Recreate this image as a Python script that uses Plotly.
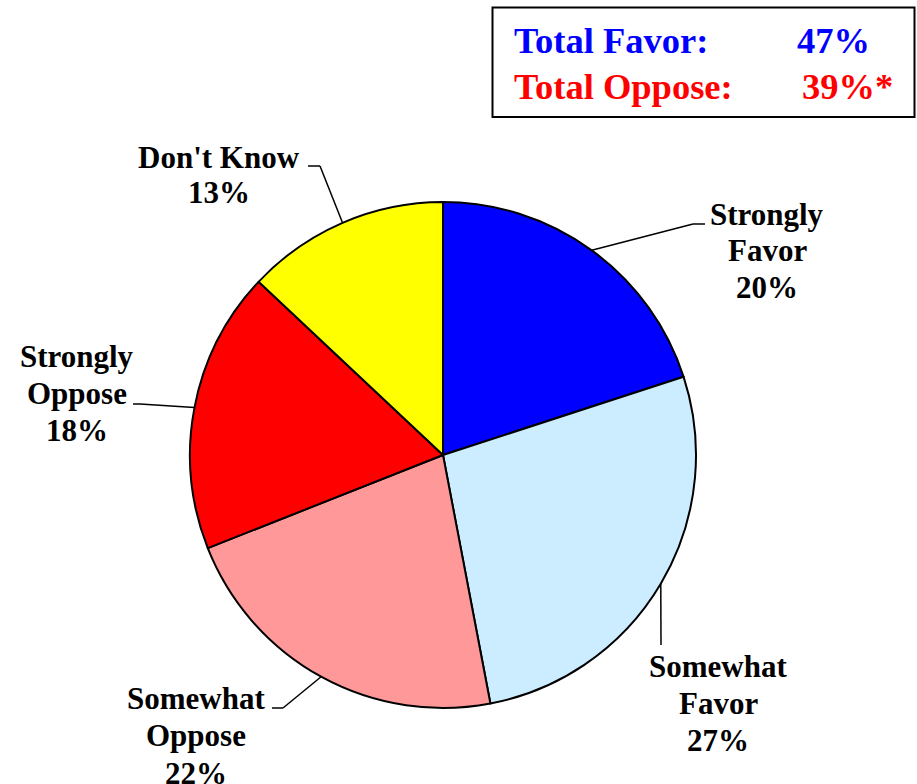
import math
import plotly.graph_objects as go

# ---- data ----
categories = ["Strongly Favor", "Somewhat Favor", "Somewhat Oppose", "Strongly Oppose", "Don't Know"]
label_lines = [["Strongly", "Favor"], ["Somewhat", "Favor"], ["Somewhat", "Oppose"], ["Strongly", "Oppose"], ["Don't Know"]]
values = [20, 27, 22, 18, 13]
colors = ["#0000FF", "#CCECFF", "#FF9999", "#FF0000", "#FFFF00"]
total_favor = 47
total_oppose = 39

# ---- layout constants (pixels) ----
W, H = 917, 784
CX, CY, R = 443, 455, 253
FONT = "Liberation Serif"

# label layout: line centre x, first line y, line spacing, leader elbow, leader end
label_pos = [
    dict(x=767, y0=214, dy=36.5, elbow=(693, 224), end=(705, 224)),
    dict(x=718, y0=666, dy=37, elbow=(661, 645), end=(661, 645)),
    dict(x=196, y0=698, dy=37.5, elbow=(283, 708), end=(272, 708)),
    dict(x=77, y0=356, dy=37, elbow=(140, 404), end=(133, 404)),
    dict(x=219, y0=157, dy=35, elbow=(320, 166), end=(308, 166)),
]


def px(x):
    return x / W


def py(y):
    return 1 - y / H


fig = go.Figure()
fig.add_trace(go.Pie(
    labels=categories,
    values=values,
    sort=False,
    direction="clockwise",
    rotation=0,
    marker=dict(colors=colors, line=dict(color="black", width=2)),
    textinfo="none",
    hoverinfo="label+percent",
    showlegend=False,
    domain=dict(x=[px(CX - R), px(CX + R)], y=[py(CY + R), py(CY - R)]),
))

annotations = []
shapes = []
total = sum(values)
cum = 0
for cat, lines, v, lp in zip(categories, label_lines, values, label_pos):
    mid = cum + v / 2
    cum += v
    ang = math.radians(90 - 360 * mid / total)
    ex, ey = CX + R * math.cos(ang), CY - R * math.sin(ang)
    shapes.append(dict(type="line", xref="paper", yref="paper",
                       x0=px(ex), y0=py(ey), x1=px(lp["elbow"][0]), y1=py(lp["elbow"][1]),
                       line=dict(color="black", width=1.5)))
    if lp["end"] != lp["elbow"]:
        shapes.append(dict(type="line", xref="paper", yref="paper",
                           x0=px(lp["elbow"][0]), y0=py(lp["elbow"][1]),
                           x1=px(lp["end"][0]), y1=py(lp["end"][1]),
                           line=dict(color="black", width=1.5)))
    all_lines = lines + [f"{v}%"]
    for i, t in enumerate(all_lines):
        annotations.append(dict(
            x=px(lp["x"]), y=py(lp["y0"] + i * lp["dy"]), xref="paper", yref="paper",
            text=t, showarrow=False, xanchor="center", yanchor="middle",
            font=dict(family=FONT, size=31, color="black", weight="bold"),
        ))

# summary box
shapes.append(dict(type="rect", xref="paper", yref="paper",
                   x0=px(492.5), y0=py(117), x1=px(914.5), y1=py(7.5),
                   line=dict(color="black", width=2), fillcolor="white"))
box_rows = [
    ("Total Favor:", f"{total_favor}%", "#0000FF", 41, 795),
    ("Total Oppose:", f"{total_oppose}%*", "#FF0000", 87, 800),
]
for lab, val, col, y, vx in box_rows:
    annotations.append(dict(x=px(512), y=py(y), xref="paper", yref="paper", text=lab,
                            showarrow=False, xanchor="left", yanchor="middle",
                            font=dict(family=FONT, size=36.5, color=col, weight="bold")))
    annotations.append(dict(x=px(vx), y=py(y), xref="paper", yref="paper", text=val,
                            showarrow=False, xanchor="left", yanchor="middle",
                            font=dict(family=FONT, size=36.5, color=col, weight="bold")))

fig.update_layout(
    width=W, height=H,
    margin=dict(l=0, r=0, t=0, b=0),
    paper_bgcolor="white", plot_bgcolor="white",
    shapes=shapes, annotations=annotations,
)
fig.write_html("out.html", config={"displayModeBar": False},
               post_script="document.body.style.margin='0';")
